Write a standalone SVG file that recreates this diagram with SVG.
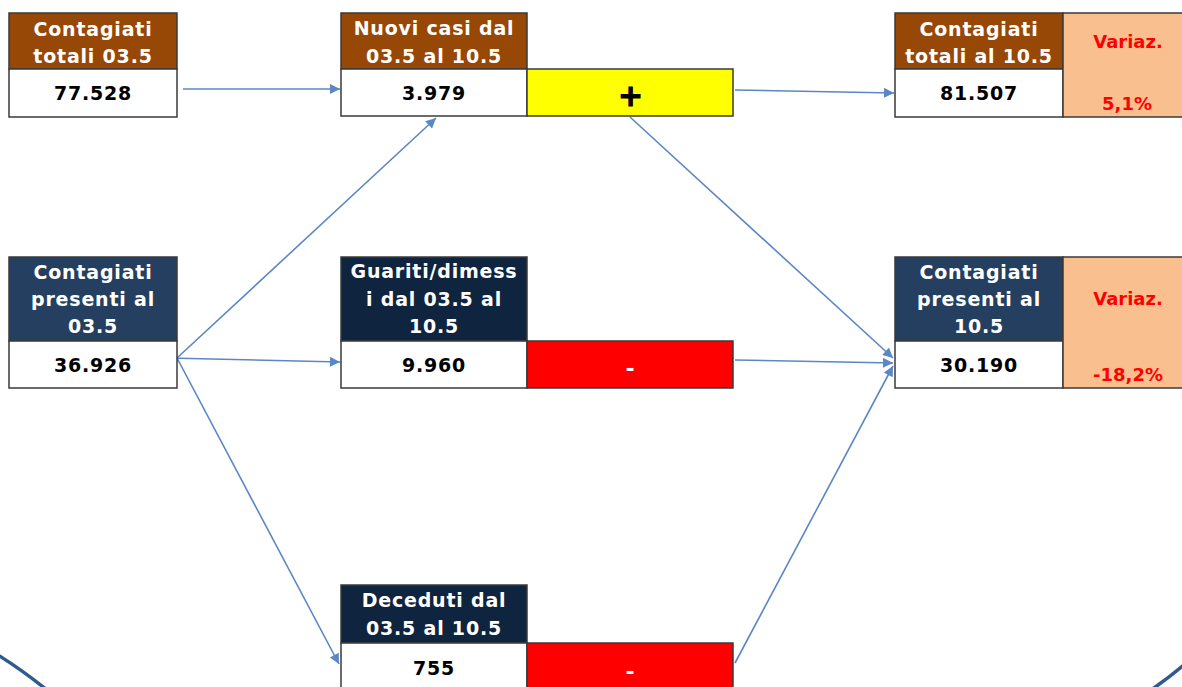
<svg xmlns="http://www.w3.org/2000/svg" width="1182" height="687" viewBox="0 0 1182 687">
<style>
  .cell{stroke:#3a3a3a;stroke-width:1.5}
  .brown{fill:#974706}
  .navy{fill:#243f60}
  .dark{fill:#0f243e}
  .white{fill:#ffffff}
  .peach{fill:#fabf8f}
  .yellow{fill:#ffff00}
  .red{fill:#ff0000}
  text{font-family:"DejaVu Sans","Liberation Sans",sans-serif;font-weight:bold;text-anchor:middle}
  .hd{fill:#ffffff;font-size:19px;letter-spacing:0.8px}
  .val{fill:#000000;font-size:19px;letter-spacing:0.8px}
  .var{fill:#ff0000;font-size:18px}
  .op{font-size:30px;stroke:#000000;stroke-width:1}
  .minus{fill:#ffffff;font-size:22px}
  .conn{stroke:#5b87c4;stroke-width:1.6;fill:none;marker-end:url(#arr)}
  .arc{stroke:#2f5b8f;stroke-width:3.5;fill:none}
</style>
<defs>
  <marker id="arr" viewBox="0 0 10 10" refX="10" refY="5" markerWidth="13" markerHeight="10" markerUnits="userSpaceOnUse" orient="auto">
    <path d="M0,0 L10,5 L0,10 z" fill="#5b87c4"/>
  </marker>
</defs>
<rect width="1182" height="687" fill="#ffffff"/>

<g id="arcs">
  <path class="arc" d="M-2,655 Q22,670 47,690"/>
  <path class="arc" d="M1185,664 Q1170,677 1151,690"/>
</g>

<g id="connectors">
  <path class="conn" d="M183,89 L340,89"/>
  <path class="conn" d="M735,90 L894,93"/>
  <path class="conn" d="M177,358 L436,118"/>
  <path class="conn" d="M168,358 L340,362"/>
  <path class="conn" d="M177,358 L339,664"/>
  <path class="conn" d="M630,117 L893,358"/>
  <path class="conn" d="M735,360 L893,363"/>
  <path class="conn" d="M735,663 L893,366"/>
</g>

<g id="totali035">
  <rect class="cell brown" x="9" y="13" width="168" height="56"/>
  <rect class="cell white" x="9" y="69" width="168" height="48"/>
  <text class="hd" x="93" y="36">Contagiati</text>
  <text class="hd" x="93" y="63">totali 03.5</text>
  <text class="val" x="93" y="100">77.528</text>
</g>

<g id="nuovicasi">
  <rect class="cell brown" x="341" y="13" width="186" height="56"/>
  <rect class="cell white" x="341" y="69" width="186" height="47"/>
  <rect class="cell yellow" x="527" y="69" width="206" height="47"/>
  <text class="hd" x="434" y="35">Nuovi casi dal</text>
  <text class="hd" x="434" y="63">03.5 al 10.5</text>
  <text class="val" x="434" y="100">3.979</text>
  <text class="val op" x="631" y="106">+</text>
</g>

<g id="totali105">
  <rect class="cell brown" x="895" y="13" width="168" height="56"/>
  <rect class="cell white" x="895" y="69" width="168" height="48"/>
  <rect class="cell peach" x="1063" y="13" width="130" height="104"/>
  <text class="hd" x="979" y="36">Contagiati</text>
  <text class="hd" x="979" y="63">totali al 10.5</text>
  <text class="val" x="979" y="100">81.507</text>
  <text class="var" x="1128" y="48">Variaz.</text>
  <text class="var" x="1127" y="110">5,1%</text>
</g>

<g id="presenti035">
  <rect class="cell navy" x="9" y="257" width="168" height="84"/>
  <rect class="cell white" x="9" y="341" width="168" height="47"/>
  <text class="hd" x="93" y="279">Contagiati</text>
  <text class="hd" x="93" y="306">presenti al</text>
  <text class="hd" x="93" y="333">03.5</text>
  <text class="val" x="93" y="372">36.926</text>
</g>

<g id="guariti">
  <rect class="cell dark" x="341" y="257" width="186" height="84"/>
  <rect class="cell white" x="341" y="341" width="186" height="47"/>
  <rect class="cell red" x="527" y="341" width="206" height="47"/>
  <text class="hd" x="434" y="278">Guariti/dimess</text>
  <text class="hd" x="434" y="306">i dal 03.5 al</text>
  <text class="hd" x="434" y="333">10.5</text>
  <text class="val" x="434" y="372">9.960</text>
  <text class="minus" x="630" y="376">-</text>
</g>

<g id="presenti105">
  <rect class="cell navy" x="895" y="257" width="168" height="84"/>
  <rect class="cell white" x="895" y="341" width="168" height="47"/>
  <rect class="cell peach" x="1063" y="257" width="130" height="131"/>
  <text class="hd" x="979" y="279">Contagiati</text>
  <text class="hd" x="979" y="306">presenti al</text>
  <text class="hd" x="979" y="333">10.5</text>
  <text class="val" x="979" y="372">30.190</text>
  <text class="var" x="1128" y="305">Variaz.</text>
  <text class="var" x="1128" y="381">-18,2%</text>
</g>

<g id="deceduti">
  <rect class="cell dark" x="341" y="585" width="186" height="58"/>
  <rect class="cell white" x="341" y="643" width="186" height="55"/>
  <rect class="cell red" x="527" y="643" width="206" height="55"/>
  <text class="hd" x="434" y="607">Deceduti dal</text>
  <text class="hd" x="434" y="635">03.5 al 10.5</text>
  <text class="val" x="434" y="675">755</text>
  <text class="minus" x="630" y="679">-</text>
</g>
</svg>
